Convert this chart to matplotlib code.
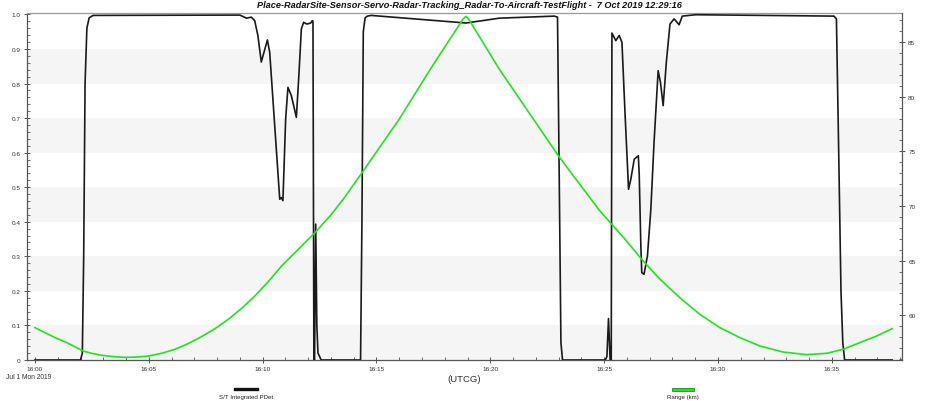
import matplotlib
matplotlib.use('Agg')
import matplotlib.pyplot as plt
from matplotlib.ticker import MultipleLocator
from matplotlib.lines import Line2D
from matplotlib.patches import Rectangle

plt.rcParams['font.family'] = ['Liberation Sans', 'DejaVu Sans']

# minutes after 16:00 UTCG
pdet_t = [0.0, 2.0, 2.08, 2.14, 2.2, 2.28, 2.38, 2.55,
          9.0, 9.29, 9.5, 9.65, 9.79, 9.94, 10.04, 10.21, 10.31, 10.45,
          10.6, 10.75, 10.82, 10.89, 11.01, 11.11, 11.26, 11.48, 11.59, 11.7,
          11.8, 11.94, 12.11, 12.18, 12.21, 12.25, 12.28, 12.33, 12.38, 12.43, 12.57,
          14.3, 14.36, 14.42, 14.5, 14.6, 14.77, 18.93, 20.39, 22.81, 22.95,
          23.03, 23.1, 23.17, 25.05, 25.12, 25.19, 25.26, 25.31,
          25.34, 25.51, 25.66, 25.78, 25.92, 26.07, 26.17, 26.32, 26.5, 26.54,
          26.61, 26.65, 26.75, 26.9, 27.05, 27.19, 27.37, 27.47, 27.59, 27.73,
          27.89, 28.07, 28.29, 28.43, 29.02, 35.09, 35.2, 35.3, 35.4, 35.48, 35.56, 37.65]
pdet = [0.0, 0.0, 0.02, 0.3, 0.8, 0.96, 0.99, 0.997,
        0.998, 0.989, 0.992, 0.982, 0.939, 0.862, 0.886, 0.926, 0.89, 0.755,
        0.61, 0.465, 0.47, 0.461, 0.697, 0.789, 0.765, 0.702, 0.823, 0.958,
        0.977, 0.972, 0.975, 0.982, 0.98, 0.0, 0.0, 0.393, 0.1, 0.02, 0.0,
        0.0, 0.4, 0.95, 0.99, 0.995, 0.997, 0.975, 0.989, 0.995, 0.992,
        0.5, 0.05, 0.0, 0.0, 0.01, 0.12, 0.0, 0.0,
        0.946, 0.924, 0.939, 0.919, 0.707, 0.494, 0.523, 0.581, 0.591, 0.533,
        0.33, 0.253, 0.248, 0.301, 0.437, 0.63, 0.837, 0.804, 0.736, 0.862,
        0.972, 0.987, 0.97, 0.995, 0.999, 0.995, 0.987, 0.6, 0.2, 0.05, 0.0, 0.0]

range_t = [0.0, 0.44, 0.88, 1.46, 2.12, 2.49, 2.93, 3.44, 3.95, 4.47, 4.98,
           5.56, 6.15, 6.73, 7.32, 7.91, 8.49, 9.08, 9.66, 10.25, 10.83,
           11.57, 12.30, 12.96, 13.54, 14.39, 16.0, 17.46, 18.8, 18.93, 19.05,
           20.39, 23.03, 24.81, 25.40, 25.98, 26.71, 27.45, 28.32, 29.2, 30.08,
           30.96, 31.84, 32.86, 33.89, 34.77, 35.5, 36.23, 36.96, 37.65]
range_km = [58.87, 58.41, 57.96, 57.44, 56.73, 56.52, 56.34, 56.22, 56.15, 56.18, 56.27,
            56.52, 56.89, 57.41, 58.05, 58.78, 59.63, 60.64, 61.77, 63.09, 64.51,
            66.04, 67.57, 69.09, 70.62, 73.12, 77.95, 82.83, 87.1, 87.35, 87.1,
            82.53, 74.47, 69.55, 68.18, 66.8, 64.97, 63.30, 61.62, 60.09, 58.87,
            57.96, 57.19, 56.64, 56.40, 56.52, 56.89, 57.50, 58.10, 58.78]

x_ticks = [0, 5, 10, 15, 20, 25, 30, 35]
x_labels = ['16:00', '16:05', '16:10', '16:15', '16:20', '16:25', '16:30', '16:35']
left_ticks = [0, 0.1, 0.2, 0.3, 0.4, 0.5, 0.6, 0.7, 0.8, 0.9, 1.0]
left_labels = ['0', '0.1', '0.2', '0.3', '0.4', '0.5', '0.6', '0.7', '0.8', '0.9', '1.0']
right_ticks = [60, 65, 70, 75, 80, 85]

green = '#1de61d'
axcol = '#555555'

fig = plt.figure(figsize=(9.4, 4.02), dpi=100)
ax = fig.add_axes([27/940, 1-361/402, 875/940, 347/402])
ax.set_facecolor('white')

# alternating bands
for b in [0.0, 0.2, 0.4, 0.6, 0.8]:
    ax.axhspan(b, b + 0.1, color='#f5f5f5', lw=0, zorder=0)

ax.plot(pdet_t, pdet, color='#1a1a1a', lw=1.2, zorder=3)
ax.set_xlim(-0.35, 38.08)
ax.set_ylim(0, 1.004)

ax.set_xticks(x_ticks)
ax.set_xticklabels(x_labels)
ax.xaxis.set_minor_locator(MultipleLocator(1))
ax.set_yticks(left_ticks)
ax.set_yticklabels(left_labels)
ax.yaxis.set_minor_locator(MultipleLocator(0.02))

ax.tick_params(which='major', direction='inout', length=5, width=0.7, color=axcol,
               labelsize=4.6, labelcolor='#333333', pad=2)
ax.tick_params(which='minor', direction='in', length=2.5, width=0.6, color=axcol)
for s in ['left', 'bottom']:
    ax.spines[s].set_color(axcol)
    ax.spines[s].set_linewidth(0.9)
ax.spines['top'].set_color('#999999')
ax.spines['top'].set_linewidth(0.9)
ax.spines['right'].set_visible(False)

ax2 = ax.twinx()
ax2.plot(range_t, range_km, color=green, lw=1.2, zorder=4)
ax2.set_ylim(55.91, 87.66)
ax2.set_yticks(right_ticks)
ax2.yaxis.set_minor_locator(MultipleLocator(1))
ax2.tick_params(which='major', direction='inout', length=5, width=0.7, color=axcol,
                labelsize=4.6, labelcolor='#333333', pad=2)
ax2.tick_params(which='minor', direction='in', length=2.5, width=0.6, color=axcol)
ax2.spines['right'].set_color(axcol)
ax2.spines['right'].set_linewidth(0.9)
for s in ['left', 'top', 'bottom']:
    ax2.spines[s].set_visible(False)

fig.text(469.5/940, 1-6/402, 'Place-RadarSite-Sensor-Servo-Radar-Tracking_Radar-To-Aircraft-TestFlight -  7 Oct 2019 12:29:16',
         ha='center', va='center', fontsize=6.6, fontweight='bold', fontstyle='italic', color='#111111')
fig.text(29/940, 1-378/402, 'Jul 1 Mon 2019', ha='center', va='center', fontsize=4.8, color='#333333')
fig.text(464/940, 1-380/402, '(UTCG)', ha='center', va='center', fontsize=6.8, color='#333333')

# legend swatches below the plot
fig.add_artist(Line2D([235/940, 257/940], [1-390/402, 1-390/402], lw=2.4, color='#111111'))
fig.text(246/940, 1-398/402, 'S/T Integrated PDet', ha='center', va='center', fontsize=4.4, color='#222222')
fig.add_artist(Rectangle((672/940, 1-391.5/402), 22/940, 3/402, facecolor=green,
                         edgecolor='#0e9a0e', lw=0.6))
fig.text(683/940, 1-398/402, 'Range (km)', ha='center', va='center', fontsize=4.4, color='#222222')

fig.savefig('out.png', dpi=100)
